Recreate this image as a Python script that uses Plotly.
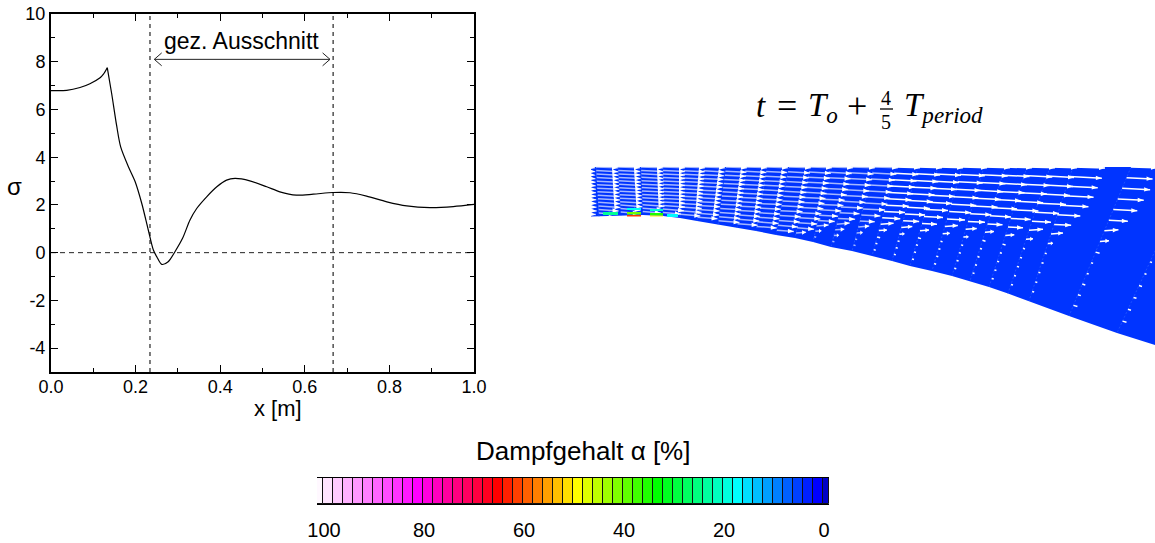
import plotly.graph_objects as go
from plotly.colors import sample_colorscale

W, H = 1155, 543
SANS = "Liberation Sans"
SERIF = "Liberation Serif"

# --- sigma curve ---
curve_x = [0.0, 0.037, 0.0686, 0.092, 0.116, 0.124, 0.133, 0.1434, 0.155, 0.1647, 0.183, 0.199, 0.2146,
           0.23, 0.242, 0.25, 0.2617, 0.277, 0.293, 0.311, 0.3286, 0.3444, 0.368, 0.392, 0.415, 0.435,
           0.47, 0.51, 0.541, 0.58, 0.62, 0.667, 0.707, 0.746, 0.794, 0.841, 0.896, 0.951, 1.0]
curve_y = [6.79, 6.8, 6.92, 7.08, 7.33, 7.48, 7.75, 6.67, 5.34, 4.43, 3.6, 2.97, 2.06,
           0.95, 0.11, -0.17, -0.49, -0.38, 0.04, 0.6, 1.37, 1.85, 2.34, 2.76, 3.04, 3.11,
           3.01, 2.76, 2.55, 2.41, 2.45, 2.52, 2.51, 2.37, 2.13, 1.96, 1.89, 1.93, 2.02]
cusp_index = 6
section_x = [0.234, 0.667]
span_left, span_right, span_y = 0.2442, 0.6596, 8.1
x_ticks = [0.0, 0.2, 0.4, 0.6, 0.8, 1.0]
x_labels = ["0.0", "0.2", "0.4", "0.6", "0.8", "1.0"]
y_ticks = [-4, -2, 0, 2, 4, 6, 8, 10]
y_labels = ["-4", "-2", "0", "2", "4", "6", "8", "10"]

# --- colour scale of the vapour content ---
scale_values = [-0.37, 1.26, 17.26, 33.26, 49.26, 65.26, 81.26, 100.83]
scale_colors = ["rgb(0,0,200)", "rgb(0,0,255)", "rgb(0,255,255)", "rgb(0,255,0)",
                "rgb(255,255,0)", "rgb(255,0,0)", "rgb(255,0,255)", "rgb(255,248,255)"]
cell_edges = [101.4] + [100.26 - 2 * k for k in range(51)] + [-1.0]
bar_ticks = [100, 80, 60, 40, 20, 0]
field_alpha = 4.5

# --- hydrofoil mesh: one entry per grid column, image-read ---
column_top = [574, 596, 618, 641, 663, 684, 704, 726, 746, 767, 789, 810, 830, 851, 874, 896, 918, 938, 962,
              984, 1005, 1027, 1050, 1073, 1131, 1194]
column_lean = [2, 3, 3, 2, 0, -4, -7, -8, -9, -11, -13, -15, -17, -20, -22, -24, -26, -28, -30,
               -32, -35, -38, -42, -44, -62, -77]
column_wall = [216.5, 216.5, 215.5, 215, 216, 218, 221, 225, 228, 231, 235, 238, 242, 247, 251, 256, 261, 266, 271,
               276, 281, 287, 293.5, 301, 316, 333]
top_wall = 167
far_wall = 345
pale_until = 880
row_slope = [.03, .05, .05, .05, .05, .05, .05, .05, .05, .05, .06, .07, .08, .08]
short_slope = .3
medium_slope = -.08
arrow_len = [
    [21, 21, 21, 21, 21, 21, 21, 21, 21, 21, 21, 21, 21, 20],
    [22, 22, 22, 22, 22, 22, 22, 22, 22, 22, 22, 22, 20, 16],
    [22, 22, 22, 22, 22, 22, 22, 22, 22, 22, 22, 22, 20, 18],
    [22, 22, 22, 22, 22, 22, 22, 22, 22, 22, 22, 22, 20, 18],
    [22, 22, 22, 22, 22, 22, 22, 22, 22, 22, 22, 22, 21, 18],
    [21, 21, 21, 21, 21, 21, 21, 21, 21, 21, 21, 21, 21, 20],
    [21, 21, 21, 21, 21, 21, 21, 21, 21, 21, 21, 21, 21, 20],
    [21, 21, 21, 21, 21, 21, 21, 21, 21, 21, 21, 21, 21, 21],
    [21, 21, 21, 21, 21, 21, 21, 21, 21, 21, 21, 21, 21, 20],
    [21, 21, 21, 21, 21, 21, 21, 21, 21, 21, 21, 21, 21, 20],
    [22, 22, 22, 22, 22, 22, 22, 22, 22, 22, 21, 21, 20, 17],
    [22, 22, 22, 22, 22, 22, 22, 22, 22, 21, 21, 19, 17, 10],
    [23, 23, 23, 23, 23, 23, 22, 22, 21, 19, 17, 12, 6, 2],
    [24, 24, 24, 24, 24, 24, 23, 22, 20, 17, 13, 9, 5, 2],
    [24, 24, 24, 24, 24, 24, 23, 22, 19, 15, 11, 6, 2, 2],
    [24, 24, 24, 24, 24, 24, 23, 21, 18, 13, 8, 3, 2, 2],
    [24, 24, 24, 24, 24, 24, 23, 20, 16, 11, 5, 2, 2, 2],
    [25, 25, 25, 25, 25, 24, 22, 19, 15, 9, 3, 2, 2, 2],
    [25, 25, 25, 25, 25, 25, 22, 18, 13, 7, 2, 2, 2, 2],
    [26, 26, 26, 26, 26, 25, 21, 17, 11, 5, 2, 2, 2, 2],
    [27, 27, 27, 27, 26, 25, 21, 15, 9, 3, 2, 2, 2, 2],
    [28, 28, 28, 28, 27, 25, 20, 15, 9, 3, 2, 2, 2, 2],
    [27, 27, 29, 29, 28, 24, 19, 14, 7, 2, 2, 2, 2, 2],
    [32, 32, 31, 30, 28, 23, 17, 12, 5, 2, 2, 2, 2, 2],
    [26, 26, 28, 26, 24, 19, 14, 9, 4, 2, 2, 3, 3, 4],
    [20, 20, 20, 20, 20, 15, 10, 2, 2, 2, 3, 3, 3, 4],
]
# cavitation cells at the wall: left, right, top, bottom, vapour content
cell_left = [603, 627, 627, 627, 650, 650, 650, 667]
cell_right = [618, 641, 641, 641, 663, 663, 663, 678]
cell_top = [212, 208, 212, 215, 209, 213, 215.5, 214]
cell_bottom = [215, 210, 214.5, 216.5, 211, 215.5, 216.5, 217]
cell_alpha = [24, 18, 40, 62, 20, 35, 50, 17]


def color_of(value):
    t = (value - scale_values[0]) / (scale_values[-1] - scale_values[0])
    return sample_colorscale(colorscale, [t])[0]


colorscale = [[(v - scale_values[0]) / (scale_values[-1] - scale_values[0]), c]
              for v, c in zip(scale_values, scale_colors)]

fig = go.Figure()

# ---- left plot ----
for sx in section_x:
    fig.add_trace(go.Scatter(x=[sx, sx], y=[-5, 10], mode="lines", xaxis="x", yaxis="y",
                             line=dict(color="#444444", width=1.4, dash="4px,4px")))
fig.add_trace(go.Scatter(x=[0, 1], y=[0, 0], mode="lines", xaxis="x", yaxis="y",
                         line=dict(color="#222222", width=1, dash="5px,4px")))
for part_x, part_y in ((curve_x[:cusp_index + 1], curve_y[:cusp_index + 1]),
                       (curve_x[cusp_index:], curve_y[cusp_index:])):
    fig.add_trace(go.Scatter(x=part_x, y=part_y, mode="lines", xaxis="x", yaxis="y",
                             line=dict(color="black", width=1.2, shape="spline", smoothing=0.8)))
wing_dx, wing_dy = 0.0175, 0.27
fig.add_trace(go.Scatter(
    x=[span_left, span_right, None, span_left + wing_dx, span_left, span_left + wing_dx, None,
       span_right - wing_dx, span_right, span_right - wing_dx],
    y=[span_y, span_y, None, span_y + wing_dy, span_y, span_y - wing_dy, None,
       span_y + wing_dy, span_y, span_y - wing_dy],
    mode="lines", xaxis="x", yaxis="y", line=dict(color="#222222", width=1)))

# ---- flow field ----
wall_x = [t + l for t, l in zip(column_top, column_lean)]
keep = [k for k, x in enumerate(wall_x) if x >= 591]
poly_x = [591, 1155, 1155] + [wall_x[k] for k in reversed(keep)] + [591]
poly_y = [top_wall, top_wall, far_wall] + [column_wall[k] for k in reversed(keep)] + [column_wall[0]]
fig.add_trace(go.Scatter(x=poly_x, y=poly_y, mode="lines", fill="toself", xaxis="x2", yaxis="y2",
                         fillcolor=color_of(field_alpha), line=dict(width=0, color=color_of(field_alpha))))

pale = dict(x=[], y=[])
bright = dict(x=[], y=[])
head_x, head_y, mesh_x, mesh_y = [], [], [], []
for j, top in enumerate(column_top):
    mesh_x += [top, wall_x[j], None]
    mesh_y += [top_wall, column_wall[j], None]
    group = pale if top < pale_until else bright
    for i in range(14):
        f = i / 14
        x0 = top + column_lean[j] * f
        y0 = top_wall + (column_wall[j] - top_wall) * f
        length = arrow_len[j][i]
        s = row_slope[i]
        if length < 5:
            s = short_slope
        elif length < 15 and i >= 5:
            s = medium_slope
        x1, y1 = x0 + length, y0 + length * s
        group["x"] += [x0, x1, None]
        group["y"] += [y0, y1, None]
        if length >= 5:
            hl = min(6, length * 0.4)
            bx, by = x1 - hl, y1 - hl * s
            head_x += [x1, bx, bx, x1, None]
            head_y += [y1, by - 2.2, by + 2.2, y1, None]
fig.add_trace(go.Scatter(x=mesh_x, y=mesh_y, mode="lines", xaxis="x2", yaxis="y2",
                         line=dict(color="#2a5cff", width=0.7, dash="2px,2px")))
fig.add_trace(go.Scatter(x=pale["x"], y=pale["y"], mode="lines", xaxis="x2", yaxis="y2",
                         line=dict(color="rgba(235,240,255,0.7)", width=1.5)))
fig.add_trace(go.Scatter(x=bright["x"], y=bright["y"], mode="lines", xaxis="x2", yaxis="y2",
                         line=dict(color="white", width=1.5)))
fig.add_trace(go.Scatter(x=head_x, y=head_y, mode="lines", fill="toself", xaxis="x2", yaxis="y2",
                         fillcolor="white", line=dict(width=0)))
for l, r, t, b, a in zip(cell_left, cell_right, cell_top, cell_bottom, cell_alpha):
    fig.add_trace(go.Scatter(x=[l, r, r, l, l], y=[t, t, b, b, t], mode="lines", fill="toself",
                             xaxis="x2", yaxis="y2", fillcolor=color_of(a), line=dict(width=0)))

# ---- colour bar ----
levels = [(a + b) / 2 for a, b in zip(cell_edges[:-1], cell_edges[1:])]
widths = [a - b for a, b in zip(cell_edges[:-1], cell_edges[1:])]
fig.add_trace(go.Bar(x=levels, y=[1] * len(levels), width=widths, xaxis="x3", yaxis="y3",
                     marker=dict(color=levels, colorscale=colorscale, cmin=scale_values[0], cmax=scale_values[-1],
                                 showscale=False, line=dict(color="#111111", width=1))))


def px(x):
    return x / W


def py(y):
    return 1 - y / H


def note(text, x, y, size, family=SANS, anchor="center"):
    return dict(text=text, x=px(x), y=py(y), xref="paper", yref="paper", showarrow=False,
                xanchor=anchor, yanchor="middle", font=dict(family=family, size=size, color="black"))


annotations = [
    note("gez. Ausschnitt", 241, 41, 23),
    note("x [m]", 278, 408, 22),
    note("σ", 14, 186, 24),
    note("Dampfgehalt α [%]", 583, 451, 26),
    note("<i>t</i>", 754, 106, 33, SERIF, "left"),
    note("=", 787, 106, 36, SERIF),
    note("<i>T<sub>o</sub></i>", 806, 108, 33, SERIF, "left"),
    note("+", 857, 106, 36, SERIF),
    note("4", 886, 98, 20, SERIF),
    note("5", 886, 122, 20, SERIF),
    note("<i>T<sub>period</sub></i>", 902, 108, 33, SERIF, "left"),
]

shapes = [dict(type="line", xref="paper", yref="paper", x0=px(880), x1=px(893), y0=py(109), y1=py(109),
               line=dict(color="black", width=1.3))]

fig.update_layout(
    template="none",
    width=W, height=H, margin=dict(l=0, r=0, t=0, b=0, pad=0), autosize=False,
    paper_bgcolor="white", plot_bgcolor="white", showlegend=False, bargap=0,
    annotations=annotations, shapes=shapes,
    font=dict(family=SANS, size=18, color="black"),
    xaxis=dict(domain=[px(51), px(474)], range=[0, 1], tickmode="array", tickvals=x_ticks, ticktext=x_labels,
               ticks="inside", ticklen=7, tickwidth=1, tickcolor="black", showline=True, linecolor="black",
               linewidth=2, mirror="ticks", showgrid=False, zeroline=False, automargin=False,
               minor=dict(tickmode="linear", tick0=0, dtick=0.1, ticks="inside", ticklen=4, tickwidth=1,
                          tickcolor="black", showgrid=False),
               tickfont=dict(family=SANS, size=18), anchor="y", ticklabelstandoff=-3),
    yaxis=dict(domain=[py(372), py(14)], range=[-5, 10], tickmode="array", tickvals=y_ticks, ticktext=y_labels,
               ticks="inside", ticklen=7, tickwidth=1, tickcolor="black", showline=True, linecolor="black",
               linewidth=2, mirror="ticks", showgrid=False, zeroline=False, automargin=False,
               minor=dict(tickmode="linear", tick0=-5, dtick=1, ticks="inside", ticklen=4, tickwidth=1,
                          tickcolor="black", showgrid=False),
               tickfont=dict(family=SANS, size=18), anchor="x"),
    xaxis2=dict(domain=[px(591), 1], range=[591, 1155], visible=False, anchor="y2", automargin=False),
    yaxis2=dict(domain=[py(360), py(150)], range=[360, 150], visible=False, anchor="x2", automargin=False),
    xaxis3=dict(domain=[px(317), px(829)], range=[101.4, -1], tickmode="array", tickvals=bar_ticks,
                ticks="", showline=True, linecolor="black", linewidth=1, mirror=True, showgrid=False,
                zeroline=False, tickfont=dict(family=SANS, size=20), anchor="y3", ticklabelstandoff=8,
                automargin=False),
    yaxis3=dict(domain=[py(504), py(478)], range=[0, 1], visible=False, anchor="x3", automargin=False),
)

fig.write_html("out.html", config=dict(displayModeBar=False), post_script="document.body.style.margin='0';")
